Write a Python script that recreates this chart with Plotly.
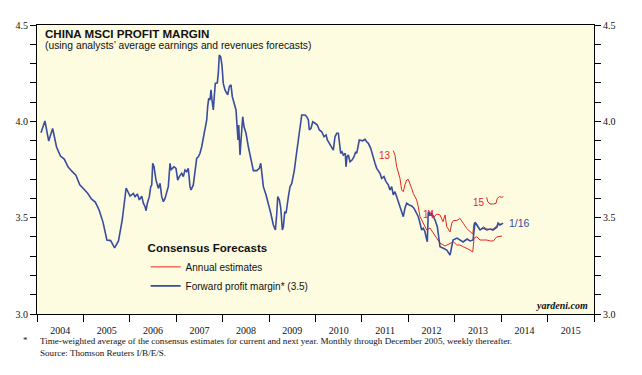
import datetime as dt
import plotly.graph_objects as go

# ---------------- data (decimal years, profit margin %) ----------------
fwd_t = [2004.086, 2004.170, 2004.252, 2004.336, 2004.420, 2004.504, 2004.586, 2004.670, 2004.754, 2004.836,
         2004.920, 2005.004, 2005.086, 2005.170, 2005.254, 2005.336, 2005.420, 2005.504, 2005.585, 2005.670,
         2005.754, 2005.835, 2005.919, 2006.003,
         2006.074, 2006.111, 2006.161, 2006.204, 2006.255, 2006.290, 2006.327, 2006.348, 2006.376, 2006.419,
         2006.449, 2006.471, 2006.492, 2006.520, 2006.563, 2006.613, 2006.650, 2006.686, 2006.721, 2006.757,
         2006.794, 2006.828, 2006.865, 2006.887, 2006.915, 2006.951, 2006.994, 2007.031, 2007.065, 2007.117,
         2007.152, 2007.188, 2007.225, 2007.259, 2007.296, 2007.318, 2007.367, 2007.404, 2007.440, 2007.475,
         2007.511, 2007.548, 2007.582, 2007.619, 2007.656, 2007.677, 2007.699, 2007.727, 2007.748, 2007.770,
         2007.798, 2007.819, 2007.841, 2007.884, 2007.906, 2007.927, 2007.957, 2007.985, 2008.013, 2008.050,
         2008.087, 2008.108, 2008.143, 2008.179, 2008.207, 2008.244, 2008.287, 2008.308, 2008.330, 2008.345,
         2008.373, 2008.395, 2008.431, 2008.459, 2008.502, 2008.552, 2008.588, 2008.625, 2008.660, 2008.733,
         2008.789, 2008.819, 2008.840,
         2008.875, 2008.933, 2008.983, 2009.034, 2009.090, 2009.134, 2009.164, 2009.185, 2009.220, 2009.250,
         2009.284, 2009.306, 2009.336, 2009.364, 2009.414, 2009.450, 2009.487, 2009.521, 2009.543, 2009.579,
         2009.607, 2009.638, 2009.666, 2009.702, 2009.773, 2009.810, 2009.844, 2009.866, 2009.902, 2009.939,
         2009.989, 2010.038, 2010.081, 2010.133, 2010.183, 2010.226, 2010.254, 2010.297, 2010.348, 2010.383,
         2010.419, 2010.456, 2010.491, 2010.512, 2010.542, 2010.570, 2010.598, 2010.641, 2010.656, 2010.678,
         2010.706, 2010.743, 2010.786, 2010.829, 2010.865, 2010.887, 2010.921, 2010.943,
         2011.016, 2011.066, 2011.102, 2011.137, 2011.189, 2011.232, 2011.281, 2011.318, 2011.389, 2011.425,
         2011.475, 2011.518, 2011.568, 2011.604, 2011.641, 2011.675, 2011.712, 2011.749, 2011.783, 2011.820,
         2011.856, 2011.891, 2011.927, 2011.964, 2012.020, 2012.072, 2012.121, 2012.164, 2012.214, 2012.251,
         2012.287, 2012.322, 2012.358, 2012.380, 2012.408, 2012.429, 2012.466, 2012.502, 2012.537, 2012.574,
         2012.623, 2012.681, 2012.752, 2012.826, 2012.897,
         2012.961, 2013.048, 2013.112, 2013.177, 2013.263, 2013.328, 2013.392, 2013.435, 2013.478, 2013.543,
         2013.608, 2013.694, 2013.759, 2013.823, 2013.909, 2013.931, 2013.974, 2014.040]
fwd_v = [3.941, 4.002, 3.898, 3.963, 3.867, 3.820, 3.804, 3.763, 3.740, 3.721,
         3.670, 3.651, 3.628, 3.597, 3.581, 3.540, 3.477, 3.384, 3.381, 3.343,
         3.379, 3.488, 3.654, 3.612,
         3.626, 3.609, 3.623, 3.592, 3.612, 3.575, 3.557, 3.536, 3.575, 3.609,
         3.661, 3.670, 3.782, 3.764, 3.695, 3.652, 3.678, 3.609, 3.583, 3.600,
         3.626, 3.661, 3.782, 3.747, 3.756, 3.764, 3.756, 3.695, 3.713, 3.730,
         3.713, 3.747, 3.739, 3.756, 3.661, 3.644, 3.670, 3.730, 3.808, 3.816,
         3.834, 3.868, 3.912, 3.972, 4.007, 4.076, 4.119, 4.111, 4.163, 4.111,
         4.059, 4.128, 4.197, 4.200, 4.249, 4.344, 4.335, 4.292, 4.197, 4.163,
         4.145, 4.137, 4.180, 4.189, 4.128, 4.094, 4.059, 3.981, 3.903, 3.981,
         3.825, 3.903, 4.024, 3.972, 3.938, 3.868, 3.825, 3.790, 3.744, 3.744,
         3.756, 3.782, 3.739,
         3.661, 3.618, 3.575, 3.523, 3.462, 3.436, 3.523, 3.609, 3.592, 3.549,
         3.436, 3.453, 3.531, 3.523, 3.609, 3.661, 3.678, 3.713, 3.747, 3.816,
         3.868, 3.920, 3.990, 4.033, 4.033, 4.024, 4.007, 3.955, 3.964, 3.998,
         3.990, 3.981, 3.955, 3.946, 3.920, 3.929, 3.903, 3.886, 3.868, 3.851,
         3.920, 3.938, 3.938, 3.886, 3.834, 3.842, 3.825, 3.834, 3.764, 3.816,
         3.825, 3.790, 3.799, 3.816, 3.842, 3.834, 3.868, 3.903,
         3.899, 3.907, 3.894, 3.886, 3.860, 3.816, 3.782, 3.756, 3.730, 3.704,
         3.713, 3.687, 3.670, 3.644, 3.661, 3.618, 3.635, 3.609, 3.583, 3.557,
         3.531, 3.505, 3.549, 3.575, 3.566, 3.561, 3.549, 3.531, 3.505, 3.471,
         3.436, 3.445, 3.427, 3.401, 3.375, 3.531, 3.514, 3.523, 3.505, 3.488,
         3.453, 3.349, 3.341, 3.332, 3.306,
         3.384, 3.394, 3.384, 3.374, 3.389, 3.379, 3.384, 3.477, 3.462, 3.436,
         3.446, 3.436, 3.441, 3.436, 3.452, 3.472, 3.462, 3.472]

est13_t = [2011.675, 2011.712, 2011.749, 2011.783, 2011.820, 2011.856, 2011.891, 2011.927, 2011.964, 2011.998,
           2012.035, 2012.072, 2012.106, 2012.143, 2012.179, 2012.214, 2012.251, 2012.287, 2012.322, 2012.358,
           2012.395, 2012.466, 2012.574, 2012.681, 2012.789, 2012.897, 2012.968, 2013.041, 2013.112, 2013.184,
           2013.256, 2013.328, 2013.386, 2013.414, 2013.472, 2013.543, 2013.614, 2013.687, 2013.759, 2013.830,
           2013.903, 2013.974, 2014.017]
est13_v = [3.848, 3.825, 3.764, 3.739, 3.704, 3.644, 3.635, 3.670, 3.695, 3.699,
           3.678, 3.652, 3.626, 3.609, 3.592, 3.557, 3.505, 3.488, 3.471, 3.453,
           3.436, 3.446, 3.410, 3.368, 3.353, 3.367, 3.375, 3.358, 3.358, 3.349,
           3.341, 3.332, 3.322, 3.394, 3.401, 3.384, 3.384, 3.384, 3.379, 3.379,
           3.400, 3.405, 3.405]

est14_t = [2012.429, 2012.466, 2012.531, 2012.610, 2012.681, 2012.746, 2012.789, 2012.826, 2012.897, 2012.933,
           2012.968, 2013.041, 2013.112, 2013.184, 2013.256, 2013.328, 2013.386, 2013.414, 2013.468, 2013.543,
           2013.614, 2013.687, 2013.759, 2013.830, 2013.903, 2013.974, 2014.017]
est14_v = [3.540, 3.524, 3.498, 3.519, 3.514, 3.479, 3.514, 3.453, 3.426, 3.471,
           3.485, 3.485, 3.496, 3.470, 3.444, 3.428, 3.415, 3.471, 3.462, 3.436,
           3.453, 3.441, 3.439, 3.441, 3.457, 3.467, 3.464]

est15_t = [2013.687, 2013.709, 2013.759, 2013.830, 2013.888, 2013.916, 2013.959, 2014.011, 2014.045]
est15_v = [3.606, 3.583, 3.571, 3.571, 3.575, 3.600, 3.609, 3.606, 3.609]

y_ticks = [round(3.0 + 0.1 * i, 1) for i in range(16)]
y_labels = ["3.0" if v == 3.0 else "3.5" if v == 3.5 else "4.0" if v == 4.0 else "4.5" if v == 4.5 else "" for v in y_ticks]


def to_date(t):
    y = int(t)
    start = dt.datetime(y, 1, 1)
    end = dt.datetime(y + 1, 1, 1)
    return start + (end - start) * (t - y)


BLUE = "#3A4C9E"
RED = "#E5261F"
SANS = "Liberation Sans, Arial, sans-serif"
SERIF = "Liberation Serif, Times New Roman, serif"

fig = go.Figure()
fig.add_trace(go.Scatter(x=[to_date(t) for t in est13_t], y=est13_v, mode="lines",
                         line=dict(color=RED, width=1), name="Annual estimates",
                         legendgroup="est", showlegend=True))
fig.add_trace(go.Scatter(x=[to_date(t) for t in est14_t], y=est14_v, mode="lines",
                         line=dict(color=RED, width=1), name="Annual estimates",
                         legendgroup="est", showlegend=False))
fig.add_trace(go.Scatter(x=[to_date(t) for t in est15_t], y=est15_v, mode="lines",
                         line=dict(color=RED, width=1), name="Annual estimates",
                         legendgroup="est", showlegend=False))
fig.add_trace(go.Scatter(x=[to_date(t) for t in fwd_t], y=fwd_v, mode="lines",
                         line=dict(color=BLUE, width=1.6), name="Forward profit margin* (3.5)"))
# helper trace so the right-hand axis is drawn
fig.add_trace(go.Scatter(x=[], y=[], yaxis="y2", showlegend=False, hoverinfo="skip"))

fig.update_layout(
    width=642, height=375,
    margin=dict(l=37, r=48, t=25, b=61),
    paper_bgcolor="white",
    plot_bgcolor="#FDFCE0",
    showlegend=True,
    legend=dict(x=0.195, y=0.265, xanchor="left", yanchor="top",
                bgcolor="rgba(0,0,0,0)", font=dict(family=SANS, size=10, color="#111"),
                title=dict(text="<b>Consensus Forecasts</b>", font=dict(family=SANS, size=11.5, color="#111")),
                itemwidth=30, tracegroupgap=0),
    xaxis=dict(type="date", range=[dt.datetime(2004, 1, 1), dt.datetime(2016, 1, 1)],
               tick0="2004-01-01", dtick="M12", tickformat="%Y", ticklabelmode="period",
               ticks="outside", ticklen=7, tickcolor="black", tickwidth=1,
               showline=True, linecolor="black", linewidth=1, mirror=True,
               showgrid=False, zeroline=False,
               tickfont=dict(family=SERIF, size=10, color="#111")),
    yaxis=dict(range=[3.0, 4.5], tickvals=y_ticks, ticktext=y_labels,
               ticks="outside", ticklen=6, tickcolor="black",
               showline=True, linecolor="black", linewidth=1,
               showgrid=False, zeroline=False,
               tickfont=dict(family=SERIF, size=10, color="#111")),
    yaxis2=dict(range=[3.0, 4.5], tickvals=y_ticks, ticktext=y_labels,
                overlaying="y", side="right",
                ticks="outside", ticklen=6, tickcolor="black",
                showline=True, linecolor="black", linewidth=1,
                showgrid=False, zeroline=False,
                tickfont=dict(family=SERIF, size=10, color="#111")),
)

ann = [
    dict(text="<b>CHINA MSCI PROFIT MARGIN</b>", x=0.011, y=0.972, font=dict(family=SANS, size=11.6, color="#111")),
    dict(text="(using analysts\u2019 average earnings and revenues forecasts)", x=0.011, y=0.928,
         font=dict(family=SANS, size=10.3, color="#111")),
    dict(text="<b><i>yardeni.com</i></b>", x=0.993, y=0.03, xanchor="right",
         font=dict(family=SERIF, size=10, color="#111")),
    dict(text="*", x=-0.028, y=-0.09, font=dict(family=SERIF, size=9, color="#111")),
    dict(text="Time-weighted average of the consensus estimates for current and next year. Monthly through December 2005, weekly thereafter.<br>Source: Thomson Reuters I/B/E/S.",
         x=0.002, y=-0.07, yanchor="top", align="left", font=dict(family=SERIF, size=9.1, color="#111")),
]
for a in ann:
    a.setdefault("xanchor", "left")
    a.setdefault("yanchor", "middle")
    fig.add_annotation(xref="paper", yref="paper", showarrow=False, **a)

# series labels
fig.add_annotation(x=to_date(2011.497), y=3.825, text="13", showarrow=False,
                   font=dict(family=SANS, size=10, color=RED))
fig.add_annotation(x=to_date(2012.444), y=3.514, text="14", showarrow=False,
                   font=dict(family=SANS, size=10, color=RED))
fig.add_annotation(x=to_date(2013.511), y=3.581, text="15", showarrow=False,
                   font=dict(family=SANS, size=10, color=RED))
fig.add_annotation(x=to_date(2014.12), y=3.47, text="1/16", showarrow=False, xanchor="left",
                   font=dict(family=SANS, size=10.5, color=BLUE))

fig.write_html("out.html", config={"displayModeBar": False},
               post_script="document.body.style.margin='0';")
